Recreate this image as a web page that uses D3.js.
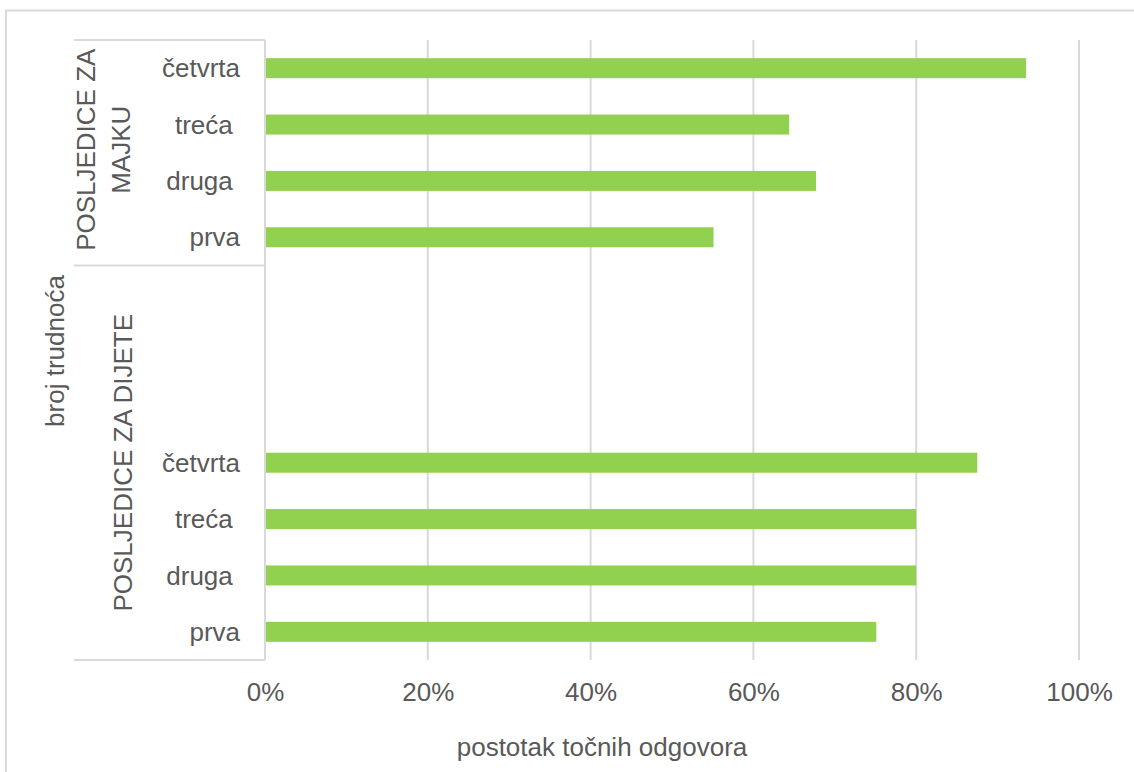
<!DOCTYPE html>
<html>
<head>
<meta charset="utf-8">
<script src="https://cdn.jsdelivr.net/npm/d3@7"></script>
<style>
  html, body { margin: 0; padding: 0; background: #ffffff; }
  svg { display: block; }
  text { font-family: "Liberation Sans", Arial, sans-serif; fill: #595959; white-space: pre; }
</style>
</head>
<body>
<svg id="chart" width="1134" height="772"></svg>
<script>
// ---- data ----
const categories = ["prva", "druga ", "treća ", "četvrta"];
const majkaValues = [55.1, 67.7, 64.4, 93.5];   // POSLJEDICE ZA MAJKU
const dijeteValues = [75.1, 80.0, 80.0, 87.5];  // POSLJEDICE ZA DIJETE
const groupMajka = ["POSLJEDICE ZA", "MAJKU"];
const groupDijete = ["POSLJEDICE ZA DIJETE"];
const xTicks = [0, 20, 40, 60, 80, 100];
const xTitle = "postotak točnih odgovora";
const yTitle = "broj trudnoća";
const blankSlots = 3;

// ---- layout ----
const svg = d3.select("#chart");
const plotLeft = 265, plotRight = 1079, plotTop = 40, plotBottom = 660;
const boxLeft = 74;
const gridColor = "#d9d9d9";
const barColor = "#92D050";
const fontSize = 26;

// slots from top to bottom
const slots = [];
[...categories].reverse().forEach((c, i) => slots.push({ key: "M" + i, label: c, value: majkaValues[categories.length - 1 - i] }));
for (let i = 0; i < blankSlots; i++) slots.push({ key: "B" + i, label: "", value: null });
[...categories].reverse().forEach((c, i) => slots.push({ key: "D" + i, label: c, value: dijeteValues[categories.length - 1 - i] }));

const x = d3.scaleLinear().domain([0, 100]).range([plotLeft, plotRight]);
const y = d3.scaleBand().domain(slots.map(d => d.key)).range([plotTop, plotBottom]).padding(0);
const bh = y.bandwidth() * 0.355;

// outer chart border
svg.append("rect").attr("x", 6).attr("y", 10.5).attr("width", 1150).attr("height", 800)
  .attr("fill", "none").attr("stroke", gridColor).attr("stroke-width", 2);

// gridlines
svg.append("g").selectAll("line").data(xTicks.filter(t => t > 0)).join("line")
  .attr("x1", d => x(d)).attr("x2", d => x(d))
  .attr("y1", plotTop).attr("y2", plotBottom)
  .attr("stroke", gridColor).attr("stroke-width", 2);

// category axis box
const sepY = y("B0");
const hl = [plotTop, sepY, plotBottom];
svg.append("g").selectAll("line").data(hl).join("line")
  .attr("x1", boxLeft).attr("x2", plotLeft).attr("y1", d => d).attr("y2", d => d)
  .attr("stroke", gridColor).attr("stroke-width", 2);
svg.append("line").attr("x1", plotLeft).attr("x2", plotLeft).attr("y1", plotTop).attr("y2", plotBottom)
  .attr("stroke", gridColor).attr("stroke-width", 2);

// bars
svg.append("g").selectAll("rect").data(slots.filter(d => d.value !== null)).join("rect")
  .attr("x", x(0) + 1)
  .attr("y", d => y(d.key) + (y.bandwidth() - bh) / 2)
  .attr("width", d => x(d.value) - x(0) - 1)
  .attr("height", bh)
  .attr("fill", barColor);

// category labels
svg.append("g").selectAll("text").data(slots.filter(d => d.label)).join("text")
  .attr("x", 240)
  .attr("y", d => y(d.key) + y.bandwidth() / 2)
  .attr("dy", "0.35em")
  .attr("text-anchor", "end")
  .attr("font-size", fontSize)
  .text(d => d.label);

// x tick labels
const xAxis = d3.axisBottom(x).tickValues(xTicks).tickFormat(d => d + "%").tickSize(0).tickPadding(0);
const gx = svg.append("g").attr("transform", `translate(0, 701)`).call(xAxis);
gx.select(".domain").remove();
gx.selectAll("text").attr("font-size", fontSize).attr("dy", 0)
  .style("font-family", '"Liberation Sans", Arial, sans-serif').attr("fill", "#595959");

// group labels
const mCenter = (plotTop + sepY) / 2 - 3;
const dCenter = (sepY + plotBottom) / 2;
const mBaselines = [95, 130];
groupMajka.forEach((t, i) => {
  svg.append("text")
    .attr("transform", `translate(${mBaselines[i]}, ${mCenter}) rotate(-90)`)
    .attr("text-anchor", "middle").attr("font-size", fontSize).text(t);
});
svg.append("text")
  .attr("transform", `translate(132, ${dCenter}) rotate(-90)`)
  .attr("text-anchor", "middle").attr("font-size", fontSize).text(groupDijete[0]);

// axis titles
svg.append("text")
  .attr("transform", `translate(64, 351) rotate(-90)`)
  .attr("text-anchor", "middle").attr("font-size", fontSize).text(yTitle);
svg.append("text")
  .attr("x", 602).attr("y", 756)
  .attr("text-anchor", "middle").attr("font-size", fontSize).text(xTitle);
</script>
</body>
</html>
